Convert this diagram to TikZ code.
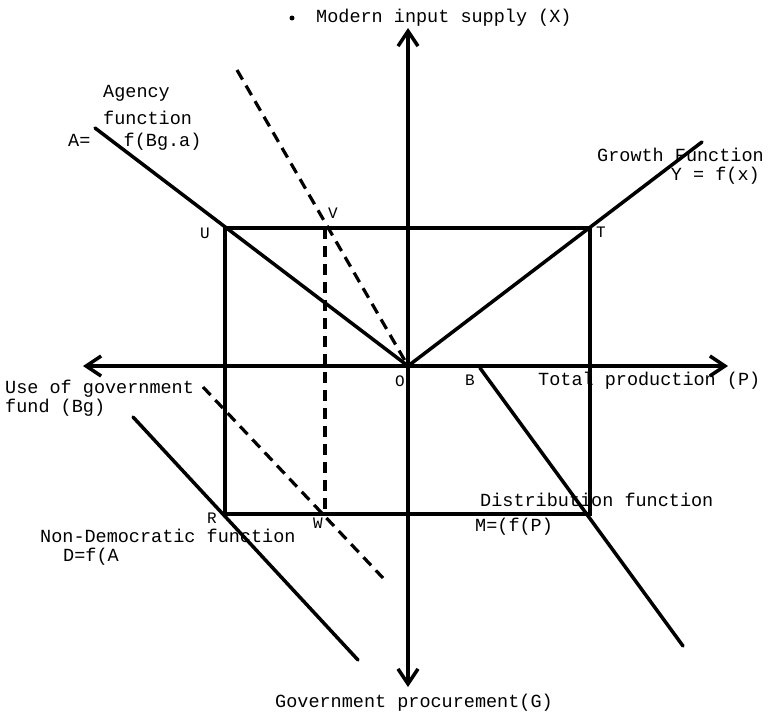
\documentclass[tikz,border=0pt]{standalone}
\usepackage{fontspec}
\setmonofont{Liberation Mono}
\usetikzlibrary{arrows.meta}
\tikzset{
  axisline/.style={line width=3.5pt,-{Straight Barb[length=15pt,width=20pt]}},
  solidline/.style={line width=3.5pt,line cap=round},
  dashline/.style={line width=3.2pt,dash pattern=on 11pt off 7pt},
  lbl/.style={font=\ttfamily\fontsize{18.5}{21}\selectfont,inner sep=0pt,anchor=west},
  pt/.style={font=\ttfamily\fontsize{16}{18}\selectfont,inner sep=0pt}
}
\begin{document}
\begin{tikzpicture}[x=1pt,y=-1pt]
\useasboundingbox (0,0) rectangle (774,715);
% key points
\coordinate (O) at (408,366);
\coordinate (xtop) at (408,28);
\coordinate (xbot) at (408,687);
\coordinate (pleft) at (83,366);
\coordinate (pright) at (728,366);
\coordinate (U) at (225,228);
\coordinate (T) at (590,228);
\coordinate (BR) at (590,514);
\coordinate (R) at (225,514);
\coordinate (Vp) at (325,228);
\coordinate (Wp) at (325,514);
\coordinate (agS) at (95,128);
\coordinate (grE) at (702,142);
\coordinate (dsS) at (237,70);
\coordinate (d2S) at (203,387);
\coordinate (d2E) at (383,578);
\coordinate (ndS) at (133,417);
\coordinate (ndE) at (358,660);
\coordinate (Bp) at (480,368);
\coordinate (diE) at (683,646);
% axes
\draw[axisline] (O) -- (xtop);
\draw[axisline] (O) -- (xbot);
\draw[axisline] (O) -- (pleft);
\draw[axisline] (O) -- (pright);
% rectangle
\draw[line width=3.5pt] (U) -- (T) -- (BR) -- (R) -- cycle;
% function lines
\draw[solidline] (agS) -- (O);
\draw[solidline] (O) -- (grE);
\draw[solidline] (Bp) -- (diE);
\draw[solidline] (ndS) -- (ndE);
% dashed lines
\draw[dashline] (dsS) -- (O);
\draw[dashline] (Vp) -- (Wp);
\draw[dashline] (d2S) -- (d2E);
% labels
\fill (292,18) circle (2.5pt);
\node[lbl] (lx) at (316,18) {Modern input supply (X)};
\node[lbl] (la1) at (103,93) {Agency};
\node[lbl] (la2) at (103,118) {function};
\node[lbl] (la3) at (68,142) {A=\ \ \ f(Bg.a)};
\node[lbl] (lg1) at (597,155) {Growth Function};
\node[lbl,anchor=east] (lg2) at (760,176) {Y = f(x)};
\node[pt] (lU) at (205,233) {U};
\node[pt] (lV) at (333,213) {V};
\node[pt] (lT) at (601,232) {T};
\node[pt] (lO) at (400,381) {O};
\node[pt] (lB) at (470,380) {B};
\node[lbl] (lp) at (538,381) {Total production (P)};
\node[lbl] (lu1) at (5,389) {Use of government};
\node[lbl] (lu2) at (5,408) {fund (Bg)};
\node[pt] (lR) at (212,518) {R};
\node[pt] (lW) at (318,523) {W};
\node[lbl] (ln1) at (40,536) {Non-Democratic function};
\node[lbl] (ln2) at (63,557) {D=f(A};
\node[lbl] (ld1) at (480,500) {Distribution function};
\node[lbl] (ld2) at (475,527) {M=(f(P)};
\node[lbl] (lgp) at (275,703) {Government procurement(G)};
\end{tikzpicture}
\end{document}
